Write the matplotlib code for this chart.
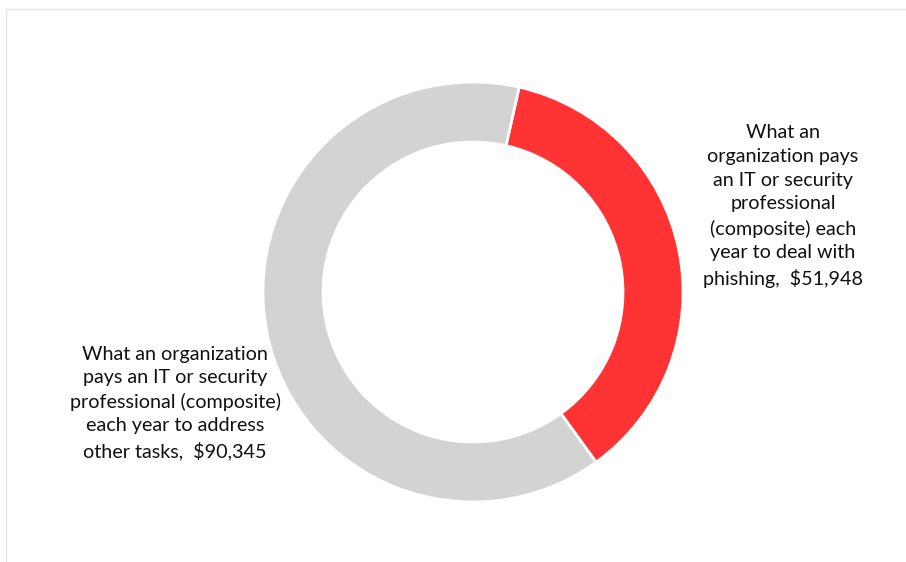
import matplotlib.pyplot as plt
from matplotlib.patches import Rectangle

# annual cost split for an IT / security professional
labels = ["What an\norganization pays\nan IT or security\nprofessional\n(composite) each\nyear to deal with\nphishing,  $51,948",
          "What an organization\npays an IT or security\nprofessional (composite)\neach year to address\nother tasks,  $90,345"]
values = [51948, 90345]
colors = ["#FF3333", "#D3D3D3"]

fig = plt.figure(figsize=(9.06, 5.62), dpi=100)
ax = fig.add_axes([0, 0, 1, 1])
ax.set_xlim(0, 906)
ax.set_ylim(562, 0)
ax.axis("off")

# thin frame around the chart area
fig.patches.append(Rectangle((6 / 906, -0.1), 1.2, (562 - 9) / 562 + 0.1,
                             transform=fig.transFigure, fill=False,
                             edgecolor="#E4E4E4", linewidth=1))

pie_ax = fig.add_axes([(473 - 210) / 906, (562 - 292 - 210) / 562, 420 / 906, 420 / 562])
pie_ax.pie(values, colors=colors, startangle=77.3, counterclock=False,
           wedgeprops=dict(width=60 / 210, edgecolor="white", linewidth=2))
pie_ax.set_xlim(-1, 1)
pie_ax.set_ylim(-1, 1)
pie_ax.set_aspect("equal")

font = ["Lato", "DejaVu Sans"]
ax.text(783, 206, labels[0], ha="center", va="center", fontsize=14.2,
        family=font, linespacing=1.48, color="#111111")
ax.text(175, 403, labels[1], ha="center", va="center", fontsize=14.2,
        family=font, linespacing=1.45, color="#111111")

fig.savefig("out.png", dpi=100)
